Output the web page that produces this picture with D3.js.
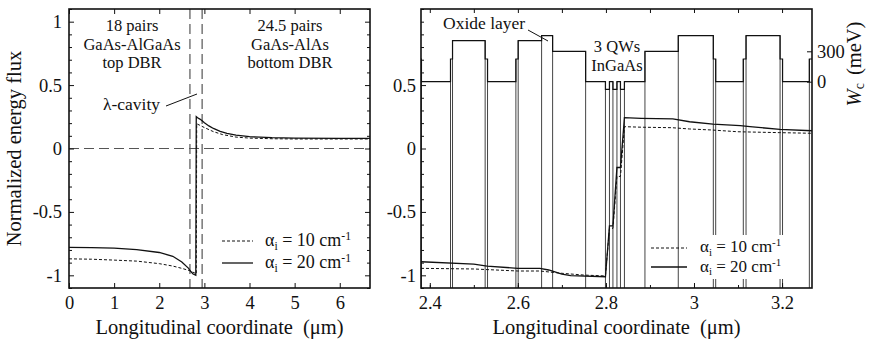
<!DOCTYPE html>
<html><head><meta charset="utf-8">
<script src="https://cdn.jsdelivr.net/npm/d3@7"></script>
<style>
body{margin:0;background:#fff}
text{font-family:"Liberation Serif","Times New Roman",Times,serif;fill:#111}
</style>
</head><body>
<svg id="c" width="870" height="340"></svg>
<script>
// ---------------- DATA ----------------
// Left panel: whole structure
const leftX20   = [0, 0.5, 1, 1.5, 2, 2.3, 2.5, 2.65, 2.7, 2.75, 2.81, 2.82, 2.85, 2.9, 2.95, 3.0, 3.1, 3.2, 3.35, 3.5, 3.7, 4.0, 4.5, 5.0, 6.0, 6.67];
const leftFlux20 = [-0.779, -0.781, -0.785, -0.797, -0.82, -0.85, -0.895, -0.945, -0.97, -0.99, -1.0, 0.251, 0.243, 0.232, 0.218, 0.203, 0.178, 0.158, 0.135, 0.12, 0.105, 0.093, 0.085, 0.082, 0.08, 0.08];
const leftX10   = [0, 0.5, 1, 1.5, 2, 2.3, 2.5, 2.7, 2.8, 2.82, 2.83, 2.9, 3.0, 3.2, 3.4, 3.7, 4.0, 4.5, 5.0, 6.67];
const leftFlux10 = [-0.87, -0.873, -0.88, -0.888, -0.908, -0.927, -0.945, -0.966, -0.985, -0.99, 0.195, 0.183, 0.165, 0.133, 0.11, 0.09, 0.082, 0.077, 0.075, 0.075];
const cavityEdges = [2.68, 2.95];
const leftXTicks = [0, 1, 2, 3, 4, 5, 6];
const fluxTicks = [-1, -0.5, 0, 0.5, 1];
const fluxTickLabels = ["-1", "-0.5", "0", "0.5", "1"];

// Right panel: zoom around the cavity
const rightX20   = [2.38, 2.5, 2.53, 2.6, 2.65, 2.67, 2.7, 2.72, 2.7989, 2.8080, 2.8159, 2.8250, 2.8330, 2.8420, 2.88, 2.952, 2.99, 3.043, 3.105, 3.127, 3.195, 3.268];
const rightFlux20 = [-0.893, -0.911, -0.927, -0.945, -0.945, -0.958, -0.99, -1.003, -1.011, -0.61, -0.61, -0.15, -0.15, 0.243, 0.238, 0.233, 0.211, 0.193, 0.18, 0.172, 0.151, 0.14];
const rightX10   = [2.38, 2.5, 2.6, 2.65, 2.7, 2.75, 2.7989, 2.8080, 2.8159, 2.8250, 2.8330, 2.8420, 2.88, 2.95, 2.99, 3.04, 3.10, 3.195, 3.268];
const rightFlux10 = [-0.945, -0.95, -0.966, -0.966, -0.984, -0.998, -1.005, -0.63, -0.63, -0.22, -0.22, 0.172, 0.168, 0.164, 0.154, 0.146, 0.132, 0.125, 0.12];
const rightXTicks = [2.4, 2.6, 2.8, 3.0, 3.2];
const rightXTickLabels = ["2.4", "2.6", "2.8", "3", "3.2"];
const rightFluxLabels = ["0.5", "0", "-0.5", "-1"];

// Conduction band profile W_c (meV): layer boundaries and level of each layer
const profX = [2.380, 2.381, 2.4470, 2.4516, 2.5257, 2.5311, 2.5955, 2.6007, 2.6539, 2.6789, 2.7539,
               2.7989, 2.8080, 2.8159, 2.8250, 2.8330, 2.8420, 2.8886, 2.9643, 3.0439, 3.0493,
               3.1120, 3.1182, 3.1955, 3.2011, 3.2620, 3.268];
const profW = [224, 0, 224, 405, 224, 0, 224, 405, 454, 300,
               0, -75, 0, -75, 0, -75, 0, 300, 454, 224,
               0, 224, 454, 224, 0, 224];
const wcTicks = [0, 300];

// ---------------- CHART ----------------
const svg = d3.select("#c");
const L = {x0: 69, x1: 370, y0: 9, y1: 288};
const R = {x0: 421, x1: 812, y0: 9, y1: 288};

const xL = d3.scaleLinear().domain([0, 6.67]).range([L.x0, L.x1]);
const xR = d3.scaleLinear().domain([2.38, 3.268]).range([R.x0, R.x1]);
const yF = d3.scaleLinear().domain([-1.1, 1.1]).range([L.y1, L.y0]);
const yW = d3.scaleLinear().domain([0, 300]).range([81.7, 51.3]);

const minorY = d3.range(-11, 12).map(i => i / 10).filter(v => Math.abs(v * 2 - Math.round(v * 2)) > 1e-6);

function styleAxis(g, size) {
  g.select(".domain").remove();
  g.selectAll(".tick line").attr("stroke", "#111").attr("stroke-width", 1);
  g.selectAll(".tick text").attr("font-size", size || 18.5).attr("fill", "#111")
    .style("font-family", '"Liberation Serif","Times New Roman",serif');
}

const defs = svg.append("defs");
defs.append("clipPath").attr("id", "clipL").append("rect")
  .attr("x", L.x0).attr("y", L.y0).attr("width", L.x1 - L.x0).attr("height", L.y1 - L.y0);
defs.append("clipPath").attr("id", "clipR").append("rect")
  .attr("x", R.x0).attr("y", R.y0).attr("width", R.x1 - R.x0).attr("height", R.y1 - R.y0);

// ======== LEFT PANEL ========
const gL = svg.append("g").attr("clip-path", "url(#clipL)");
gL.append("line").attr("x1", L.x0).attr("x2", L.x1).attr("y1", yF(0)).attr("y2", yF(0))
  .attr("stroke", "#555").attr("stroke-width", 1.2).attr("stroke-dasharray", "10,5");
cavityEdges.forEach(v => {
  gL.append("line").attr("x1", xL(v)).attr("x2", xL(v)).attr("y1", L.y0).attr("y2", L.y1)
    .attr("stroke", "#555").attr("stroke-width", 1.2).attr("stroke-dasharray", "10,5");
});
const lineL = d3.line().x(d => xL(d[0])).y(d => yF(d[1]));
gL.append("path").datum(d3.zip(leftX10, leftFlux10)).attr("d", lineL)
  .attr("fill", "none").attr("stroke", "#111").attr("stroke-width", 1).attr("stroke-dasharray", "3,2");
gL.append("path").datum(d3.zip(leftX20, leftFlux20)).attr("d", lineL)
  .attr("fill", "none").attr("stroke", "#111").attr("stroke-width", 1.3);

svg.append("g").attr("transform", `translate(0,${L.y1})`)
  .call(d3.axisBottom(xL).tickValues(leftXTicks).tickSize(-5).tickPadding(8).tickFormat(d3.format("d")))
  .call(g => styleAxis(g));
svg.append("g").attr("transform", `translate(0,${L.y0})`)
  .call(d3.axisTop(xL).tickValues(leftXTicks).tickSize(-5).tickFormat(""))
  .call(g => styleAxis(g));
svg.append("g").attr("transform", `translate(${L.x0},0)`)
  .call(d3.axisLeft(yF).tickValues(fluxTicks).tickSize(-5).tickPadding(7).tickFormat((d, i) => fluxTickLabels[i]))
  .call(g => styleAxis(g));
svg.append("g").attr("transform", `translate(${L.x0},0)`)
  .call(d3.axisLeft(yF).tickValues(minorY).tickSize(-3).tickFormat(""))
  .call(g => styleAxis(g));
svg.append("g").attr("transform", `translate(${L.x1},0)`)
  .call(d3.axisRight(yF).tickValues(fluxTicks).tickSize(-5).tickFormat(""))
  .call(g => styleAxis(g));
svg.append("g").attr("transform", `translate(${L.x1},0)`)
  .call(d3.axisRight(yF).tickValues(minorY).tickSize(-3).tickFormat(""))
  .call(g => styleAxis(g));
svg.append("rect").attr("x", L.x0).attr("y", L.y0).attr("width", L.x1 - L.x0).attr("height", L.y1 - L.y0)
  .attr("fill", "none").attr("stroke", "#111").attr("stroke-width", 1.6);

// annotations left
const annL = [["18 pairs", 31], ["GaAs-AlGaAs", 49.5], ["top DBR", 68]];
annL.forEach(a => svg.append("text").attr("x", 132).attr("y", a[1]).attr("text-anchor", "middle").attr("font-size", 16.5).text(a[0]));
const annR = [["24.5 pairs", 31], ["GaAs-AlAs", 49.5], ["bottom DBR", 68]];
annR.forEach(a => svg.append("text").attr("x", 290).attr("y", a[1]).attr("text-anchor", "middle").attr("font-size", 16.5).text(a[0]));
svg.append("text").attr("x", 103).attr("y", 110).attr("font-size", 17.5).text("λ-cavity");
svg.append("line").attr("x1", 166).attr("y1", 106).attr("x2", 197).attr("y2", 94).attr("stroke", "#111").attr("stroke-width", 1);

function legendText(x, y, val, fs) {
  const t = svg.append("text").attr("x", x).attr("y", y).attr("font-size", fs);
  t.append("tspan").text("α");
  t.append("tspan").attr("dy", 3.5).attr("font-size", fs * 0.65).text("i");
  t.append("tspan").attr("dy", -3.5).text(" = " + val + " cm");
  t.append("tspan").attr("dy", -6).attr("font-size", fs * 0.65).text("-1");
}
svg.append("line").attr("x1", 222).attr("x2", 253).attr("y1", 241).attr("y2", 241)
  .attr("stroke", "#111").attr("stroke-width", 1).attr("stroke-dasharray", "3,2");
svg.append("line").attr("x1", 222).attr("x2", 253).attr("y1", 263).attr("y2", 263)
  .attr("stroke", "#111").attr("stroke-width", 1.3);
legendText(265, 246, 10, 18);
legendText(265, 268, 20, 18);

// ======== RIGHT PANEL ========
const gR = svg.append("g").attr("clip-path", "url(#clipR)");
for (let i = 1; i < profX.length - 1; i++) {
  const top = Math.min(yW(profW[i - 1]), yW(profW[i]));
  gR.append("line").attr("x1", xR(profX[i])).attr("x2", xR(profX[i]))
    .attr("y1", top).attr("y2", R.y1).attr("stroke", "#444").attr("stroke-width", 1);
}
const profPts = [];
for (let i = 0; i < profW.length; i++) {
  profPts.push([profX[i], profW[i]]);
  profPts.push([profX[i + 1], profW[i]]);
}
gR.append("path").datum(profPts)
  .attr("d", d3.line().x(d => xR(d[0])).y(d => yW(d[1])))
  .attr("fill", "none").attr("stroke", "#111").attr("stroke-width", 1.2);

const lineR = d3.line().x(d => xR(d[0])).y(d => yF(d[1]));
gR.append("path").datum(d3.zip(rightX10, rightFlux10)).attr("d", lineR)
  .attr("fill", "none").attr("stroke", "#111").attr("stroke-width", 1).attr("stroke-dasharray", "3,2");
gR.append("path").datum(d3.zip(rightX20, rightFlux20)).attr("d", lineR)
  .attr("fill", "none").attr("stroke", "#111").attr("stroke-width", 1.3);

svg.append("rect").attr("x", 697).attr("y", 235).attr("width", 96).attr("height", 44).attr("fill", "#fff");
svg.append("line").attr("x1", 651).attr("x2", 687).attr("y1", 248).attr("y2", 248)
  .attr("stroke", "#111").attr("stroke-width", 1).attr("stroke-dasharray", "3,2");
svg.append("line").attr("x1", 651).attr("x2", 687).attr("y1", 267).attr("y2", 267)
  .attr("stroke", "#111").attr("stroke-width", 1.3);
legendText(700, 252, 10, 17);
legendText(700, 271.5, 20, 17);

const minorXR = d3.range(24, 33).map(i => i / 10);
svg.append("g").attr("transform", `translate(0,${R.y1})`)
  .call(d3.axisBottom(xR).tickValues(rightXTicks).tickSize(-5).tickPadding(8).tickFormat((d, i) => rightXTickLabels[i]))
  .call(g => styleAxis(g));
svg.append("g").attr("transform", `translate(0,${R.y1})`)
  .call(d3.axisBottom(xR).tickValues(minorXR).tickSize(-3).tickFormat(""))
  .call(g => styleAxis(g));
svg.append("g").attr("transform", `translate(0,${R.y0})`)
  .call(d3.axisTop(xR).tickValues(minorXR).tickSize(-4).tickFormat(""))
  .call(g => styleAxis(g));
svg.append("g").attr("transform", `translate(${R.x0},0)`)
  .call(d3.axisLeft(yF).tickValues([0.5, 0, -0.5, -1]).tickSize(-5).tickPadding(5).tickFormat((d, i) => rightFluxLabels[i]))
  .call(g => styleAxis(g));
svg.append("g").attr("transform", `translate(${R.x0},0)`)
  .call(d3.axisLeft(yF).tickValues(minorY.concat([1])).tickSize(-3).tickFormat(""))
  .call(g => styleAxis(g));
svg.append("g").attr("transform", `translate(${R.x1},0)`)
  .call(d3.axisRight(yW).tickValues(wcTicks).tickSize(-5).tickPadding(5).tickFormat(d3.format("d")))
  .call(g => styleAxis(g));
svg.append("rect").attr("x", R.x0).attr("y", R.y0).attr("width", R.x1 - R.x0).attr("height", R.y1 - R.y0)
  .attr("fill", "none").attr("stroke", "#111").attr("stroke-width", 1.6);

svg.append("text").attr("x", 443).attr("y", 29).attr("font-size", 17.5).text("Oxide layer");
svg.append("line").attr("x1", 528).attr("y1", 30).attr("x2", 548).attr("y2", 41).attr("stroke", "#111").attr("stroke-width", 1);
svg.append("text").attr("x", 617).attr("y", 52).attr("text-anchor", "middle").attr("font-size", 16.5).text("3 QWs");
svg.append("text").attr("x", 617).attr("y", 70.5).attr("text-anchor", "middle").attr("font-size", 16.5).text("InGaAs");

function xTitle(cx) {
  const t = svg.append("text").attr("x", cx).attr("y", 334).attr("text-anchor", "middle").attr("font-size", 20.5);
  t.append("tspan").text("Longitudinal coordinate");
  t.append("tspan").attr("dx", 10).text("(μm)");
}
xTitle((L.x0 + L.x1) / 2);
xTitle((R.x0 + R.x1) / 2);
svg.append("text").attr("transform", `translate(21,${(L.y0 + L.y1) / 2}) rotate(-90)`)
  .attr("text-anchor", "middle").attr("font-size", 20.5).text("Normalized energy flux");
const wt = svg.append("text").attr("transform", "translate(861,64) rotate(-90)")
  .attr("text-anchor", "middle").attr("font-size", 20.5);
wt.append("tspan").attr("font-style", "italic").text("W");
wt.append("tspan").attr("dy", 3).attr("font-size", 14).text("c");
wt.append("tspan").attr("dy", -3).attr("dx", 8).text("(meV)");
</script>
</body></html>
